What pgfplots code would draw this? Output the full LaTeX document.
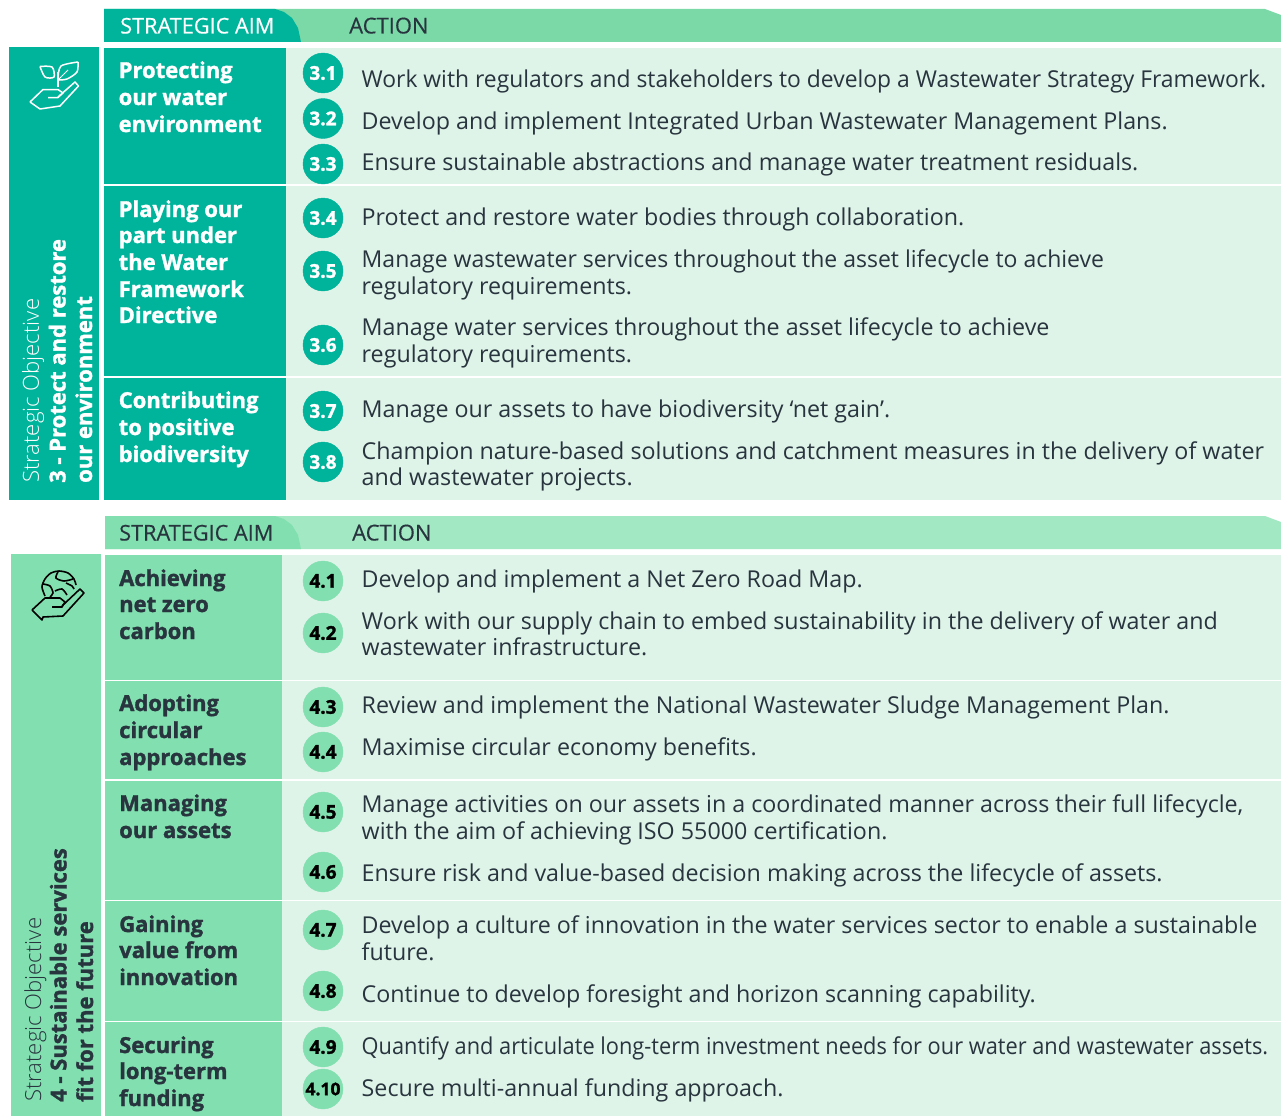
\documentclass[border=0pt]{standalone}
\usepackage{fontspec}
\usepackage{pgfplots}
\pgfplotsset{compat=1.18}
\setmainfont{Open Sans}
\newfontfamily\heavy{Open Sans}[UprightFont=* Bold,FakeBold=1.4]
\newfontfamily\semi{Open Sans}[FakeBold=0.35]
\newfontfamily\lightf{Open Sans Light}
\definecolor{teal3}{RGB}{0,179,155}
\definecolor{head3}{RGB}{123,217,168}
\definecolor{bgrow}{RGB}{223,244,232}
\definecolor{green4}{RGB}{130,224,176}
\definecolor{head4}{RGB}{162,232,195}
\definecolor{ink}{RGB}{40,52,62}

% filled block, pixel coordinates
\newcommand{\block}[5]{\addplot[fill=#5,draw=none] coordinates {(#1,#2) (#3,#2) (#3,#4) (#1,#4)} --cycle;}
\newcommand{\sep}[3]{\addplot[white,line width=1.3pt] coordinates {(#1,#3) (#2,#3)};}
% action text: baseline, text
\newcommand{\act}[2]{\node[anchor=base west,inner sep=0pt,text=ink,font=\fontsize{23.25}{27}\selectfont] at (axis cs:361.5,#1) {#2};}
\newcommand{\actx}[3]{\node[anchor=base west,inner sep=0pt,text=ink,xscale=#1,font=\fontsize{23.25}{27}\selectfont] at (axis cs:361.5,#2) {#3};}
\newcommand{\aim}[4]{\node[anchor=base west,inner sep=0pt,text=#4,font=\fontsize{22}{27}\selectfont\heavy] at (axis cs:#1,#2) {#3};}
\newcommand{\rotobj}[3]{\node[rotate=90,anchor=base west,inner sep=0pt,text=#3,font=\fontsize{22}{27}\selectfont\heavy] at (axis cs:#1) {#2};}

\pgfplotsset{disc/.style={only marks,mark=*,mark size=20pt,mark options={draw=#1,fill=#1},
  nodes near coords,point meta=explicit symbolic}}

\begin{document}
\begin{tikzpicture}
\useasboundingbox (0,0) rectangle (1281pt,1116pt);
\begin{axis}[at={(0,0)},anchor=south west,scale only axis,width=1281pt,height=1116pt,
  xmin=0,xmax=1281,ymin=0,ymax=1116,y dir=reverse,hide axis]
% section 3 blocks
\addplot[fill=head3,draw=none] coordinates {(104,9) (1265,9) (1281,15) (1281,42) (104,42)} --cycle;
\addplot[fill=teal3,draw=none] coordinates {(104,9) (275,9) (284,12) (292,18) (298,28) (301,42) (104,42)} --cycle;
\block{9}{47}{99}{500}{teal3}
\block{104}{48}{286}{500}{teal3}
\block{286}{48}{1281}{500}{bgrow}
\sep{104}{1281}{185}
\sep{104}{1281}{377}
% section 4 blocks
\addplot[fill=head4,draw=none] coordinates {(105,516) (1265,516) (1281,522) (1281,549) (105,549)} --cycle;
\addplot[fill=green4,draw=none] coordinates {(105,516) (275,516) (284,519) (292,525) (298,535) (301,549) (105,549)} --cycle;
\block{11}{554}{101}{1116}{green4}
\block{105}{555}{282}{1116}{green4}
\block{282}{555}{1281}{1116}{bgrow}
\sep{105}{1281}{680.5}
\sep{105}{1281}{780}
\sep{105}{1281}{900.5}
\sep{105}{1281}{1021.5}
% number discs
\addplot[disc=teal3,nodes near coords style={anchor=center,inner sep=0pt,text=white,font=\fontsize{19}{20}\selectfont\heavy}] coordinates
  {(323,73)[3.1] (323,118.5)[3.2] (323,164)[3.3] (323,218)[3.4] (323,271)[3.5] (323,345)[3.6] (323,411)[3.7] (323,462)[3.8]};
\addplot[disc=green4,nodes near coords style={anchor=center,inner sep=0pt,text=black,font=\fontsize{19}{20}\selectfont\heavy}] coordinates
  {(323,581)[4.1] (323,633)[4.2] (323,707)[4.3] (323,752)[4.4] (323,812)[4.5] (323,872)[4.6] (323,930)[4.7] (323,991)[4.8] (323,1047)[4.9]};
\addplot[disc=green4,nodes near coords style={anchor=center,inner sep=0pt,text=black,font=\fontsize{17.5}{20}\selectfont\heavy}] coordinates
  {(323,1089)[4.10]};
% plant icon
\addplot[white,line width=1.5pt,line join=round] coordinates {(30,102) (43,89.5) (58,89.5) (63,93) (58,97.5) (48,97.5)};
\addplot[white,line width=1.5pt,line join=round] coordinates {(58,97) (75,82) (78.5,86) (60,106) (40,109) (30,102)};
\addplot[white,line width=1.5pt] coordinates {(58,87) (58,72)};
\addplot[white,line width=1.5pt,smooth] coordinates {(40,66.5) (52,67) (54,77) (45,77) (40,66.5)};
\addplot[white,line width=1.5pt,smooth] coordinates {(58,78) (61,66) (78,62)};
\addplot[white,line width=1.5pt,smooth] coordinates {(78,62) (77,72) (67,79) (58,80)};
\addplot[white,line width=1pt] coordinates {(58,80) (68,70)};
% globe icon
\addplot[black,line width=1.6pt,line join=round] coordinates {(32,610) (45,598) (60,598) (65,602) (62,607) (52,607)};
\addplot[black,line width=1.6pt,line join=round] coordinates {(62,606) (80,589) (84,593) (63,616) (43,617) (42,620) (32,610)};
\addplot[black,line width=1.6pt,smooth] coordinates {(45,596) (42,587) (45,579) (51,573) (59,571) (68,573) (74,579) (76,585)};
\addplot[black,line width=1.6pt,smooth] coordinates {(43,584) (50,586) (53,593) (50,597)};
\addplot[black,line width=1.6pt,smooth] coordinates {(58,572) (56,578) (64,581) (73,579)};
\addplot[black,line width=1.6pt,smooth] coordinates {(55,591) (62,589) (67,595)};
\addplot[black,line width=1.6pt,smooth] coordinates {(66,583) (72,586) (74,589)};
% headers
\node[anchor=base west,inner sep=0pt,text=white,font=\fontsize{21.7}{27}\selectfont\semi] at (axis cs:120,33.5) {STRATEGIC AIM};
\node[anchor=base west,inner sep=0pt,text=ink,font=\fontsize{22}{27}\selectfont\semi] at (axis cs:349,33.5) {ACTION};
\node[anchor=base west,inner sep=0pt,text=ink,font=\fontsize{21.7}{27}\selectfont\semi] at (axis cs:119,540.5) {STRATEGIC AIM};
\node[anchor=base west,inner sep=0pt,text=ink,font=\fontsize{22}{27}\selectfont\semi] at (axis cs:352,540.5) {ACTION};
% objective labels
\node[rotate=90,anchor=base west,inner sep=0pt,text=white,font=\fontsize{22.1}{27}\selectfont\lightf] at (axis cs:39,483) {Strategic Objective};
\rotobj{65.5,483}{3 - Protect and restore}{white}
\rotobj{92,483}{our environment}{white}
\node[rotate=90,anchor=base west,inner sep=0pt,text=ink,font=\fontsize{22.1}{27}\selectfont\lightf] at (axis cs:41,1102) {Strategic Objective};
\rotobj{66.5,1102}{4 - Sustainable services}{ink}
\rotobj{93,1102}{fit for the future}{ink}
% aims
\aim{118.5}{78}{Protecting}{white}
\aim{118.5}{105}{our water}{white}
\aim{118.5}{132}{environment}{white}
\aim{118.5}{217}{Playing our}{white}
\aim{118.5}{243}{part under}{white}
\aim{118.5}{270}{the Water}{white}
\aim{118.5}{297}{Framework}{white}
\aim{118.5}{323}{Directive}{white}
\aim{118.5}{408}{Contributing}{white}
\aim{118.5}{435}{to positive}{white}
\aim{118.5}{462}{biodiversity}{white}
\aim{119}{586}{Achieving}{ink}
\aim{119}{612}{net zero}{ink}
\aim{119}{639}{carbon}{ink}
\aim{119}{711}{Adopting}{ink}
\aim{119}{738}{circular}{ink}
\aim{119}{765}{approaches}{ink}
\aim{119}{811}{Managing}{ink}
\aim{119}{838}{our assets}{ink}
\aim{119}{932}{Gaining}{ink}
\aim{119}{958}{value from}{ink}
\aim{119}{985}{innovation}{ink}
\aim{119}{1053}{Securing}{ink}
\aim{119}{1079}{long-term}{ink}
\aim{119}{1106}{funding}{ink}
% actions
\actx{0.983}{87.5}{Work with regulators and stakeholders to develop a Wastewater Strategy Framework.}
\act{129.5}{Develop and implement Integrated Urban Wastewater Management Plans.}
\act{170}{Ensure sustainable abstractions and manage water treatment residuals.}
\act{225}{Protect and restore water bodies through collaboration.}
\actx{0.989}{267}{Manage wastewater services throughout the asset lifecycle to achieve}
\act{294}{regulatory requirements.}
\act{335}{Manage water services throughout the asset lifecycle to achieve}
\act{362}{regulatory requirements.}
\act{417}{Manage our assets to have biodiversity ‘net gain’.}
\act{459}{Champion nature-based solutions and catchment measures in the delivery of water}
\act{485}{and wastewater projects.}
\act{587}{Develop and implement a Net Zero Road Map.}
\act{629}{Work with our supply chain to embed sustainability in the delivery of water and}
\act{655}{wastewater infrastructure.}
\act{713}{Review and implement the National Wastewater Sludge Management Plan.}
\act{755}{Maximise circular economy benefits.}
\act{812}{Manage activities on our assets in a coordinated manner across their full lifecycle,}
\act{839}{with the aim of achieving ISO 55000 certification.}
\act{881}{Ensure risk and value-based decision making across the lifecycle of assets.}
\act{933}{Develop a culture of innovation in the water services sector to enable a sustainable}
\act{960}{future.}
\act{1002}{Continue to develop foresight and horizon scanning capability.}
\actx{0.937}{1054}{Quantify and articulate long-term investment needs for our water and wastewater assets.}
\act{1096}{Secure multi-annual funding approach.}
\end{axis}
\end{tikzpicture}
\end{document}
